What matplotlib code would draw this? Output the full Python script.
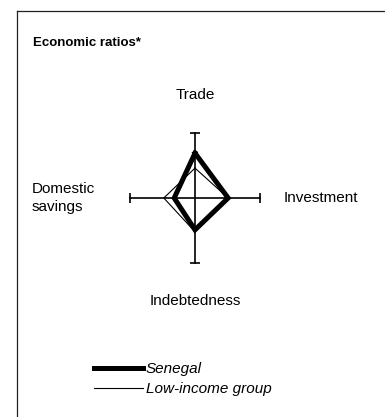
import matplotlib
matplotlib.use("Agg")
import matplotlib.pyplot as plt
from matplotlib.lines import Line2D
import numpy as np

plt.rcParams['font.family'] = ['Liberation Sans', 'DejaVu Sans']

# Axes of the diamond (clockwise from top) and their directions
axes_names = ["Trade", "Investment", "Indebtedness", "Domestic\nsavings"]
directions = [(0, 1), (1, 0), (0, -1), (-1, 0)]

# Values as a fraction of each axis length
senegal = [0.69, 0.51, 0.49, 0.32]
low_income = [0.46, 0.51, 0.52, 0.48]
series_names = ["Senegal", "Low-income group"]

W, H = 385, 417
fig = plt.figure(figsize=(W / 100, H / 100), dpi=100)

# diamond axes: center at (195,198) px from top, unit = 65 px
cx, cy, unit = 195, 198, 65
span = 1.2
size = 2 * span * unit
ax = fig.add_axes([(cx - size / 2) / W, (H - cy - size / 2) / H, size / W, size / H])
ax.set_xlim(-span, span)
ax.set_ylim(-span, span)
ax.set_aspect('equal')
ax.axis('off')

# axis lines with end caps
ax.plot([-1, 1], [0, 0], color='black', lw=1.2, zorder=2)
ax.plot([0, 0], [-1, 1], color='black', lw=1.2, zorder=2)
ax.plot([-1, 1], [0, 0], ls='none', marker='|', ms=7, mew=1.2, color='black')
ax.plot([0, 0], [-1, 1], ls='none', marker='_', ms=7, mew=1.2, color='black')


def diamond(vals):
    xs = [d[0] * v for d, v in zip(directions, vals)]
    ys = [d[1] * v for d, v in zip(directions, vals)]
    return xs + xs[:1], ys + ys[:1]


xs, ys = diamond(low_income)
l2, = ax.plot(xs, ys, color='black', lw=0.8, zorder=3, label=series_names[1])
xs, ys = diamond(senegal)
l1, = ax.plot(xs, ys, color='black', lw=3.6, zorder=4, solid_joinstyle='miter',
              label=series_names[0])

# axis labels
fs = 11
ax.text(0, 1.585, axes_names[0], ha='center', va='center', fontsize=fs, clip_on=False)
ax.text(1.37, 0.0, axes_names[1], ha='left', va='center', fontsize=fs, clip_on=False)
ax.text(0, -1.59, axes_names[2], ha='center', va='center', fontsize=fs, clip_on=False)
ax.text(-2.51, 0.0, axes_names[3], ha='left', va='center', fontsize=fs, clip_on=False,
        linespacing=1.3)

# title
fig.text(33 / W, 1 - 43 / H, "Economic ratios*", fontsize=9.5, fontweight='bold',
         ha='left', va='center')

# legend
leg = fig.legend(handles=[l1, l2], loc='upper left',
                 bbox_to_anchor=(88 / W, 1 - 356 / H), frameon=False,
                 prop={'style': 'italic', 'size': 11}, handlelength=3.2,
                 handletextpad=0.2, labelspacing=0.4, borderaxespad=0)

# frame lines (left and top)
fig.add_artist(Line2D([17 / W, 17 / W], [0, 1 - 11 / H], color='#222222', lw=0.9))
fig.add_artist(Line2D([17 / W, 1], [1 - 11 / H, 1 - 11 / H], color='#222222', lw=0.9))

fig.savefig("out.png", dpi=100)
